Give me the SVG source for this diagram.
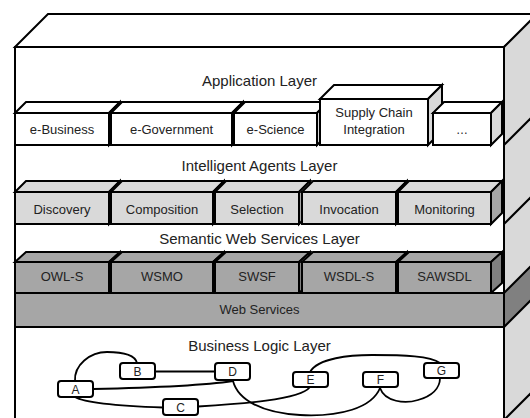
<svg xmlns="http://www.w3.org/2000/svg" width="530" height="418" viewBox="0 0 530 418">
<style>
.s{stroke:#000;stroke-width:2;stroke-linejoin:miter}
.w{fill:#fff}
.l1{fill:#d9d9d9}
.l2{fill:#a6a6a6}
.l3{fill:#808080}
.t{font-family:"Liberation Sans",Arial,sans-serif;fill:#222;text-anchor:middle}
.h{font-size:15px}
.b{font-size:13px}
.n{font-size:12px}
.e{fill:none;stroke:#000;stroke-width:1.8;stroke-linecap:round}
.nd{fill:#fff;stroke:#000;stroke-width:2}
</style>
<g id="frame">
<polygon class="s w" points="15,47 48,14 540,14 504,47"/>
<polygon class="s l1" points="504,47 540,11 540,430 504,430"/>
<polygon class="s l3" points="504,293 540,257 540,291 504,327"/>
<line class="s" x1="504" y1="145" x2="540" y2="109"/>
<line class="s" x1="504" y1="224" x2="540" y2="188"/>
<line class="s" x1="504" y1="420" x2="540" y2="384"/>
<rect class="s w" x="15" y="47" width="489" height="380"/>
<text class="t h" x="259.5" y="86">Application Layer</text>
<text class="t h" x="259.5" y="171">Intelligent Agents Layer</text>
<text class="t h" x="259.5" y="244">Semantic Web Services Layer</text>
<text class="t h" x="259.5" y="351">Business Logic Layer</text>
</g>
<g id="app-ebusiness">
<polygon class="s w" points="15,113 26,102 120,102 109,113"/>
<polygon class="s l1" points="109,113 120,102 120,134 109,145"/>
<rect class="s w" x="15" y="113" width="94" height="32"/>
<text class="t b" x="62" y="134">e-Business</text>
</g>
<g id="app-egovernment">
<polygon class="s w" points="111,113 122,102 243,102 232,113"/>
<polygon class="s l1" points="232,113 243,102 243,134 232,145"/>
<rect class="s w" x="111" y="113" width="121" height="32"/>
<text class="t b" x="171.5" y="134">e-Government</text>
</g>
<g id="app-escience">
<polygon class="s w" points="234,113 245,102 328,102 317,113"/>
<polygon class="s l1" points="317,113 328,102 328,134 317,145"/>
<rect class="s w" x="234" y="113" width="83" height="32"/>
<text class="t b" x="275.5" y="134">e-Science</text>
</g>
<g id="app-supply">
<polygon class="s w" points="320,99 334,85 442,85 428,99"/>
<polygon class="s l1" points="428,99 442,85 442,131 428,145"/>
<rect class="s w" x="320" y="99" width="108" height="46"/>
<text class="t b" x="374" y="117">Supply Chain</text>
<text class="t b" x="374" y="134">Integration</text>
</g>
<g id="app-more">
<polygon class="s w" points="433,113 444,102 502,102 491,113"/>
<polygon class="s l1" points="491,113 502,102 502,134 491,145"/>
<rect class="s w" x="433" y="113" width="58" height="32"/>
<text class="t n" x="462" y="134">…</text>
</g>
<g id="ia-discovery">
<polygon class="s l1" points="15,192 26,181 120,181 109,192"/>
<polygon class="s l2" points="109,192 120,181 120,213 109,224"/>
<rect class="s l1" x="15" y="192" width="94" height="32"/>
<text class="t b" x="62" y="214">Discovery</text>
</g>
<g id="ia-composition">
<polygon class="s l1" points="111,192 122,181 224,181 213,192"/>
<polygon class="s l2" points="213,192 224,181 224,213 213,224"/>
<rect class="s l1" x="111" y="192" width="102" height="32"/>
<text class="t b" x="162" y="214">Composition</text>
</g>
<g id="ia-selection">
<polygon class="s l1" points="215,192 226,181 310,181 299,192"/>
<polygon class="s l2" points="299,192 310,181 310,213 299,224"/>
<rect class="s l1" x="215" y="192" width="84" height="32"/>
<text class="t b" x="257" y="214">Selection</text>
</g>
<g id="ia-invocation">
<polygon class="s l1" points="302,192 313,181 407,181 396,192"/>
<polygon class="s l2" points="396,192 407,181 407,213 396,224"/>
<rect class="s l1" x="302" y="192" width="94" height="32"/>
<text class="t b" x="349" y="214">Invocation</text>
</g>
<g id="ia-monitoring">
<polygon class="s l1" points="398,192 409,181 502,181 491,192"/>
<polygon class="s l2" points="491,192 502,181 502,213 491,224"/>
<rect class="s l1" x="398" y="192" width="93" height="32"/>
<text class="t b" x="444.5" y="214">Monitoring</text>
</g>
<g id="sws-owls">
<polygon class="s l2" points="15,262 26,252 120,252 109,262"/>
<polygon class="s l3" points="109,262 120,252 120,283 109,293"/>
<rect class="s l2" x="15" y="262" width="94" height="31"/>
<text class="t b" x="62" y="281">OWL-S</text>
</g>
<g id="sws-wsmo">
<polygon class="s l2" points="111,262 122,252 224,252 213,262"/>
<polygon class="s l3" points="213,262 224,252 224,283 213,293"/>
<rect class="s l2" x="111" y="262" width="102" height="31"/>
<text class="t b" x="162" y="281">WSMO</text>
</g>
<g id="sws-swsf">
<polygon class="s l2" points="215,262 226,252 310,252 299,262"/>
<polygon class="s l3" points="299,262 310,252 310,283 299,293"/>
<rect class="s l2" x="215" y="262" width="84" height="31"/>
<text class="t b" x="257" y="281">SWSF</text>
</g>
<g id="sws-wsdls">
<polygon class="s l2" points="302,262 313,252 407,252 396,262"/>
<polygon class="s l3" points="396,262 407,252 407,283 396,293"/>
<rect class="s l2" x="302" y="262" width="94" height="31"/>
<text class="t b" x="349" y="281">WSDL-S</text>
</g>
<g id="sws-sawsdl">
<polygon class="s l2" points="398,262 409,252 502,252 491,262"/>
<polygon class="s l3" points="491,262 502,252 502,283 491,293"/>
<rect class="s l2" x="398" y="262" width="93" height="31"/>
<text class="t b" x="444.5" y="281">SAWSDL</text>
</g>
<g id="web-services">
<rect class="s l2" x="15" y="293" width="489" height="34"/>
<text class="t b" x="259.5" y="314">Web Services</text>
</g>
<g id="connectors">
<path class="e" d="M75,381 C74,365 90,352 107,352 C122,352 135,355 137,363"/>
<path class="e" d="M155,371.5 L215,371.5"/>
<path class="e" d="M93,389 C140,388 200,386 233,381"/>
<path class="e" d="M75,397 C85,403 120,406 163,407.5"/>
<path class="e" d="M198,406.5 C240,404 300,400 310,387"/>
<path class="e" d="M233,381 C238,400 262,413 300,415 C340,417 372,408 380,388"/>
<path class="e" d="M380,388 C385,402 405,404 418,400 C432,396 440,388 440,378"/>
<path class="e" d="M310,372 C318,358 350,355 372,355 C405,355 430,356 440,363"/>
</g>
<g id="node-A"><rect class="nd" x="58" y="381" width="35" height="16" rx="3"/><text class="t n" x="75.5" y="393.5">A</text></g>
<g id="node-B"><rect class="nd" x="120" y="363" width="35" height="16" rx="3"/><text class="t n" x="137.5" y="375.5">B</text></g>
<g id="node-C"><rect class="nd" x="163" y="399" width="35" height="16" rx="3"/><text class="t n" x="180.5" y="411.5">C</text></g>
<g id="node-D"><rect class="nd" x="215" y="363" width="35" height="17" rx="3"/><text class="t n" x="232.5" y="376">D</text></g>
<g id="node-E"><rect class="nd" x="293" y="372" width="35" height="15" rx="3"/><text class="t n" x="310.5" y="384">E</text></g>
<g id="node-F"><rect class="nd" x="363" y="372" width="35" height="15" rx="3"/><text class="t n" x="380.5" y="384">F</text></g>
<g id="node-G"><rect class="nd" x="424" y="363" width="35" height="15" rx="3"/><text class="t n" x="441.5" y="375">G</text></g>
</svg>
